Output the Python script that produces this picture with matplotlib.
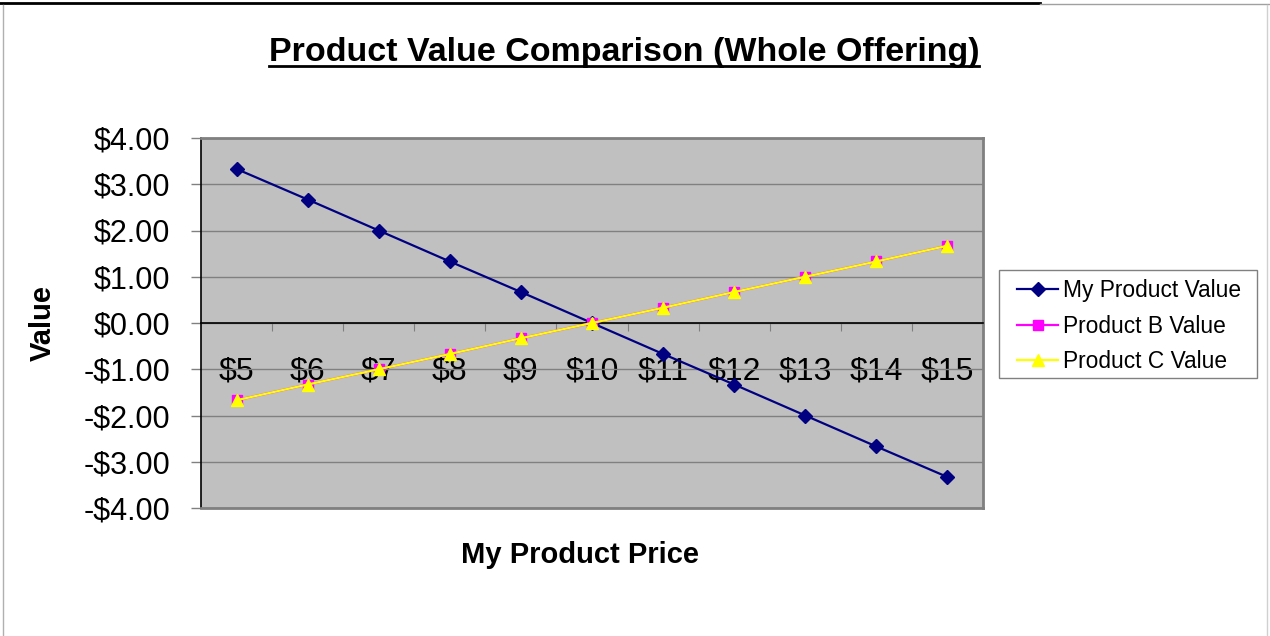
import matplotlib
matplotlib.use("Agg")
import matplotlib.pyplot as plt
from matplotlib.lines import Line2D
from matplotlib.patches import Rectangle
from matplotlib.ticker import FuncFormatter
import numpy as np

prices = ["$5", "$6", "$7", "$8", "$9", "$10", "$11", "$12", "$13", "$14", "$15"]
my_value = [3.33, 2.67, 2.00, 1.33, 0.67, 0.00, -0.67, -1.33, -2.00, -2.67, -3.33]
b_value = [-1.67, -1.33, -1.00, -0.67, -0.33, 0.00, 0.33, 0.67, 1.00, 1.33, 1.67]
c_value = [-1.67, -1.33, -1.00, -0.67, -0.33, 0.00, 0.33, 0.67, 1.00, 1.33, 1.67]

plt.rcParams["font.family"] = ["Liberation Sans", "DejaVu Sans"]

fig = plt.figure(figsize=(12.7, 6.36), dpi=100)
ax = fig.add_axes([201 / 1270, 1 - 508 / 636, 782 / 1270, 370 / 636])
ax.set_facecolor("#c0c0c0")

x = np.arange(len(prices))
ax.plot(x, my_value, color="#000080", lw=1.6, marker="D", ms=7.5, label="My Product Value", zorder=3)
ax.plot(x, b_value, color="#ff00ff", lw=1.6, marker="s", ms=7.5, label="Product B Value", zorder=3)
ax.plot(x, c_value, color="#ffff00", lw=1.6, marker="^", ms=9, label="Product C Value", zorder=4)

ax.set_xlim(-0.5, len(prices) - 0.5)
ax.set_ylim(-4, 4)
ax.set_yticks(np.arange(-4, 5, 1))
ax.yaxis.set_major_formatter(FuncFormatter(lambda v, _: f"-${abs(v):.2f}" if v < 0 else f"${v:.2f}"))
ax.grid(axis="y", color="#808080", lw=1.0)
ax.set_axisbelow(True)
ax.tick_params(axis="y", labelsize=22, length=7, color="#808080", width=1.0, pad=15)

# category axis crosses at zero, labels sit below
ax.spines["bottom"].set_position(("data", 0))
ax.spines["bottom"].set_color("black")
ax.spines["bottom"].set_linewidth(1.2)
ax.set_xticks(np.arange(0.5, len(prices) - 1, 1))
ax.set_xticklabels([])
ax.set_xticks(x, minor=True)
ax.set_xticklabels(prices, minor=True)
ax.tick_params(axis="x", which="major", length=6, color="#808080", direction="out")
ax.tick_params(axis="x", which="minor", length=0, labelsize=23, pad=24)

ax.spines["left"].set_color("black")
ax.spines["left"].set_linewidth(1.2)
for s in ("top", "right"):
    ax.spines[s].set_color("#808080")
    ax.spines[s].set_linewidth(2)
ax.plot([0, 1], [0, 0], transform=ax.transAxes, color="#808080", lw=2, clip_on=False, zorder=5)

fig.text(43 / 1270, 1 - 323 / 636, "Value", rotation=90, ha="center", va="center",
         fontsize=21, fontweight="bold")
fig.text(580 / 1270, 1 - 555 / 636, "My Product Price", ha="center", va="center",
         fontsize=21, fontweight="bold")

title = fig.text(624 / 1270, 1 - 52 / 636, "Product Value Comparison (Whole Offering)",
                 ha="center", va="center", fontsize=24.5, fontweight="bold")

# legend without its own frame, box drawn separately to match the Excel padding
leg = fig.legend(loc="upper left", bbox_to_anchor=(1007 / 1270, 1 - 269 / 636),
                 bbox_transform=fig.transFigure, borderaxespad=0, fontsize=16.4,
                 frameon=False, handlelength=1.8, handletextpad=0.22,
                 labelspacing=0.55, borderpad=0.45)
fig.add_artist(Rectangle((999 / 1270, 1 - 378 / 636), 258 / 1270, 108 / 636,
                         transform=fig.transFigure, fill=False, edgecolor="#808080", lw=1.0))

# underline the title
fig.canvas.draw()
bb = title.get_window_extent().transformed(fig.transFigure.inverted())
fig.add_artist(Line2D([bb.x0, bb.x1], [bb.y0 + 0.002, bb.y0 + 0.002], color="black", lw=2,
                      transform=fig.transFigure))

# page frame
fig.add_artist(Line2D([0, 1040 / 1270], [1 - 3 / 636, 1 - 3 / 636], color="black", lw=2,
                      transform=fig.transFigure))
fig.add_artist(Line2D([1040 / 1270, 1], [1 - 4 / 636, 1 - 4 / 636], color="#a0a0a0", lw=1,
                      transform=fig.transFigure))
fig.add_artist(Line2D([0.002, 0.002], [0, 1 - 5 / 636], color="#b0b0b0", lw=1,
                      transform=fig.transFigure))
fig.add_artist(Line2D([1 - 3 / 1270, 1 - 3 / 1270], [0, 1 - 5 / 636], color="#d0d0d0", lw=1,
                      transform=fig.transFigure))

fig.savefig("out.png", dpi=100)
